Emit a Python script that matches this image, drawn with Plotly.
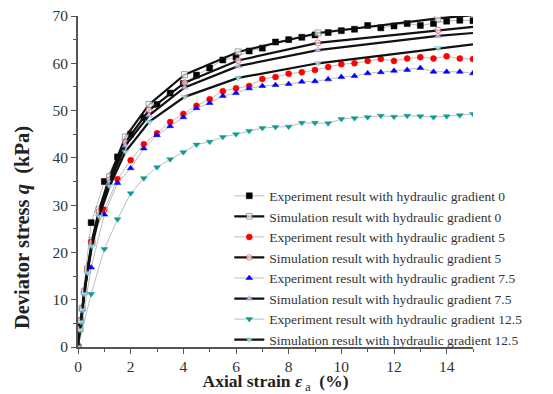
import plotly.graph_objects as go

# ---------------- data ----------------
strain_exp = [0, 0.5, 1, 1.5, 2, 2.5, 3, 3.5, 4, 4.5, 5, 5.5, 6, 6.5, 7, 7.5,
              8, 8.5, 9, 9.5, 10, 10.5, 11, 11.5, 12, 12.5, 13, 13.5, 14, 14.5, 15]
strain_exp0 = [0, 0.05] + strain_exp[1:]

exp_0 = [0, 4.5, 26.3, 35.0, 40.2, 45.0, 48.5, 51.3, 53.7, 55.7, 57.5, 59.0, 60.7, 61.3,
         62.6, 63.2, 64.5, 65.0, 65.5, 66.0, 66.5, 66.9, 67.2, 68.0, 67.5, 67.9, 68.4,
         68.0, 68.4, 68.9, 69.1, 69.0]
exp_5 = [0, 22.2, 29.0, 35.5, 39.5, 42.9, 45.2, 47.6, 49.3, 51.0, 52.4, 54.1, 54.7, 55.2,
         56.7, 57.1, 57.8, 58.1, 58.6, 59.2, 59.8, 60.0, 60.5, 60.9, 60.5, 61.0, 61.3,
         61.0, 61.5, 61.0, 60.9]
exp_75 = [0, 16.8, 28.0, 34.7, 37.8, 42.0, 44.8, 46.7, 48.6, 50.5, 51.6, 53.1, 53.7, 54.7,
          55.2, 55.4, 55.6, 56.1, 56.2, 56.6, 57.1, 57.3, 57.9, 58.1, 58.4, 58.6, 59.0,
          58.2, 58.2, 58.2, 57.9]
exp_125 = [0, 11.2, 20.7, 27.0, 32.5, 35.7, 38.0, 39.7, 41.2, 42.8, 43.4, 44.4, 45.0, 45.7,
           46.3, 46.5, 46.6, 47.4, 47.4, 47.3, 48.2, 48.4, 48.6, 48.9, 48.7, 48.9, 48.8,
           48.6, 48.8, 49.0, 49.3]

strain_sim = [0, 0.07, 0.105, 0.16, 0.24, 0.36, 0.53, 0.8, 1.2, 1.8, 2.7, 4.05, 6.08,
              9.11, 13.67, 15]
sim_0 = [0, 3.8, 5.6, 8.2, 11.8, 16.5, 22.5, 29.0, 36.0, 44.4, 51.3, 57.6, 62.4, 66.4, 69.5, 70.2]
sim_5 = [0, 3.8, 5.5, 8.1, 11.6, 16.2, 22.1, 28.6, 35.3, 43.3, 50.1, 55.9, 60.6, 64.3, 67.0, 67.7]
sim_75 = [0, 3.7, 5.4, 8.0, 11.4, 16.0, 21.8, 28.2, 34.8, 42.6, 49.0, 54.9, 59.4, 62.8, 65.8, 66.4]
sim_125 = [0, 3.6, 5.3, 7.8, 11.2, 15.7, 21.3, 27.6, 34.0, 41.3, 47.6, 52.9, 56.9, 60.0, 63.2, 64.0]

labels = ["Experiment result with hydraulic gradient 0",
          "Simulation result with hydraulic gradient 0",
          "Experiment result with hydraulic gradient 5",
          "Simulation result with hydraulic gradient 5",
          "Experiment result with hydraulic gradient 7.5",
          "Simulation result with hydraulic gradient 7.5",
          "Experiment result with hydraulic gradient 12.5",
          "Simulation result with hydraulic gradient 12.5"]

x_ticks = [0, 2, 4, 6, 8, 10, 12, 14]
y_ticks = [0, 10, 20, 30, 40, 50, 60, 70]

# ---------------- figure ----------------
SERIF = "Liberation Serif, Times New Roman, serif"
fig = go.Figure()

exp_line = dict(color="#bdbdbd", width=1)
sim_line = dict(color="#111111", width=2.2)
sim_sizes = [6] * (len(strain_sim) - 1) + [0]

series = [
    (strain_exp0, exp_0, "exp", "square", "#000000", "#000000"),
    (strain_sim, sim_0, "sim", "square", "#ffffff", "#777777"),
    (strain_exp, exp_5, "exp", "circle", "#ff0000", "#ff0000"),
    (strain_sim, sim_5, "sim", "circle", "#ffffff", "#ff3333"),
    (strain_exp, exp_75, "exp", "triangle-up", "#0000ff", "#0000ff"),
    (strain_sim, sim_75, "sim", "triangle-up", "#ffffff", "#8888ff"),
    (strain_exp, exp_125, "exp", "triangle-down", "#109c94", "#109c94"),
    (strain_sim, sim_125, "sim", "triangle-down", "#ffffff", "#55cccc"),
]

for (xs, ys, kind, sym, fill, edge), name in zip(series, labels):
    if kind == "exp":
        fig.add_trace(go.Scatter(
            x=xs, y=ys, mode="lines+markers", name=name,
            line=exp_line,
            marker=dict(symbol=sym, size=6, color=fill, line=dict(color=edge, width=0.5)),
        ))
    else:
        fig.add_trace(go.Scatter(
            x=xs, y=ys, mode="lines+markers", name=name,
            line=sim_line,
            marker=dict(symbol=sym, size=sim_sizes, color=fill, line=dict(color=edge, width=1)),
        ))

axis_common = dict(
    showline=True, linecolor="#555555", linewidth=1.6,
    ticks="outside", tickcolor="#555555", ticklen=5, tickwidth=1.4,
    showgrid=False, zeroline=False, mirror=False, automargin=False,
    ticklabeloverflow="allow",
    tickfont=dict(family=SERIF, size=15.5, color="#333333"),
)

fig.update_xaxes(
    range=[0, 15], tickvals=x_ticks, ticktext=[str(v) for v in x_ticks],
    minor=dict(ticks="outside", ticklen=3, tickcolor="#555555", dtick=1, tick0=0),
    title=dict(text="<b>Axial strain <i>ε</i></b><sub> a</sub><b>  (%)</b>",
               font=dict(family=SERIF, size=17.5, color="#222222"), standoff=5),
    **axis_common,
)
fig.update_yaxes(
    range=[0, 70], tickvals=y_ticks, ticktext=[str(v) for v in y_ticks],
    minor=dict(ticks="outside", ticklen=3, tickcolor="#555555", dtick=5, tick0=0),
    **axis_common,
)

fig.add_annotation(
    text="<b>Deviator stress <i>q</i>  (kPa)</b>",
    xref="paper", yref="paper", x=-0.142, y=0.362, textangle=-90,
    showarrow=False, font=dict(family=SERIF, size=20.5, color="#222222"),
    xanchor="center", yanchor="middle",
)

# the page body adds an 8 px margin, so the figure is 8 px smaller than the window
fig.update_layout(
    width=545, height=386,
    margin=dict(l=70, r=80, t=8, b=47),
    paper_bgcolor="white", plot_bgcolor="white",
    showlegend=True,
    legend=dict(
        x=0.383, y=0.503, xanchor="left", yanchor="top",
        bgcolor="rgba(0,0,0,0)", borderwidth=0,
        font=dict(family=SERIF, size=13.5, color="#333333"),
        tracegroupgap=0, itemwidth=30,
    ),
)

fig.write_html("out.html")
